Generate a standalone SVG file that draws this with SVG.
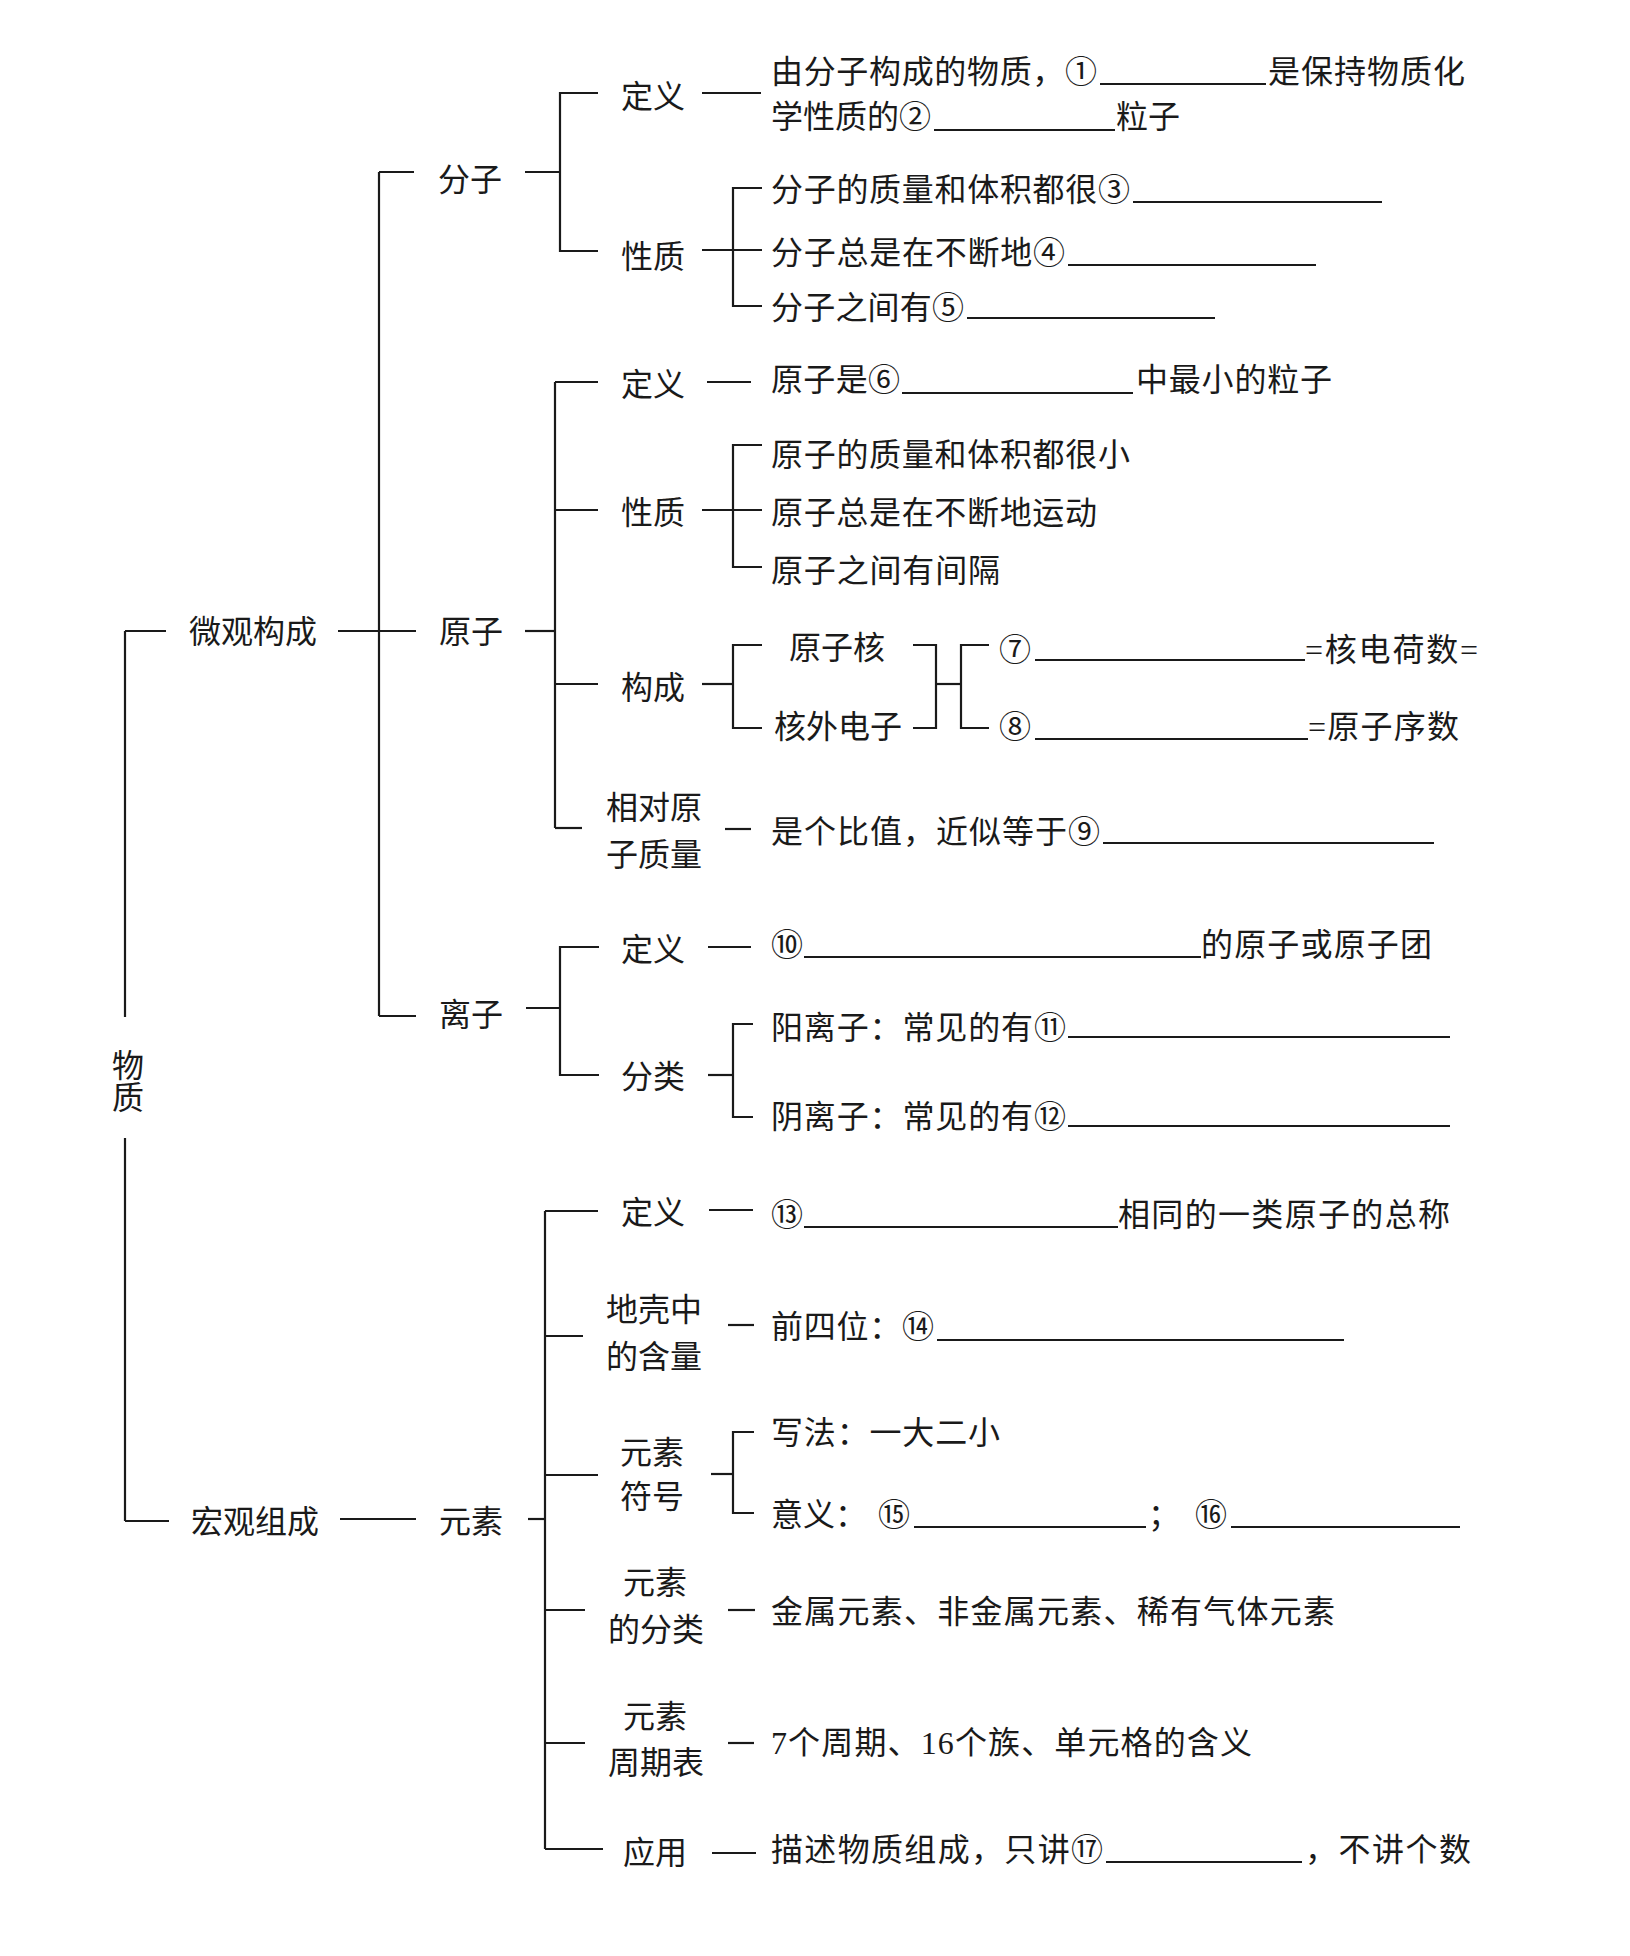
<svg xmlns="http://www.w3.org/2000/svg" width="1630" height="1956" viewBox="0 0 1630 1956">
<style>
text{font-family:"Liberation Serif","Noto Sans CJK SC",serif;font-size:32px;fill:#1a1a1a}
.m{text-anchor:middle}
.v{writing-mode:vertical-rl}
.c line,.c polyline{stroke:#1a1a1a;stroke-width:2.2;fill:none}
.u{stroke:#1a1a1a;stroke-width:1.8}
</style>
<rect width="1630" height="1956" fill="#ffffff"/>
<g class="c" id="connectors">
<line x1="125" y1="631" x2="125" y2="1017"/>
<line x1="125" y1="1138" x2="125" y2="1521"/>
<line x1="125" y1="631" x2="166" y2="631"/>
<line x1="125" y1="1521" x2="169" y2="1521"/>
<line x1="338" y1="631" x2="416" y2="631"/>
<line x1="379" y1="172" x2="379" y2="1016"/>
<line x1="379" y1="172" x2="414" y2="172"/>
<line x1="379" y1="1016" x2="416" y2="1016"/>
<line x1="525" y1="172" x2="560" y2="172"/>
<polyline points="598,93 560,93 560,251 598,251"/>
<line x1="702" y1="93" x2="761" y2="93"/>
<line x1="702" y1="250" x2="762" y2="250"/>
<polyline points="762,188 733,188 733,306 762,306"/>
<line x1="525" y1="631" x2="555" y2="631"/>
<line x1="555" y1="382" x2="555" y2="828"/>
<line x1="555" y1="382" x2="598" y2="382"/>
<line x1="555" y1="510" x2="598" y2="510"/>
<line x1="555" y1="684" x2="598" y2="684"/>
<line x1="555" y1="828" x2="582" y2="828"/>
<line x1="707" y1="382" x2="751" y2="382"/>
<line x1="702" y1="510" x2="762" y2="510"/>
<polyline points="762,445 733,445 733,567 762,567"/>
<line x1="702" y1="684" x2="733" y2="684"/>
<polyline points="762,645 733,645 733,728 762,728"/>
<polyline points="913,645 936,645 936,728 913,728"/>
<line x1="936" y1="684" x2="961" y2="684"/>
<polyline points="989,645 961,645 961,728 989,728"/>
<line x1="725" y1="829" x2="751" y2="829"/>
<line x1="526" y1="1008" x2="560" y2="1008"/>
<polyline points="599,947 560,947 560,1075 599,1075"/>
<line x1="708" y1="947" x2="751" y2="947"/>
<line x1="708" y1="1075" x2="733" y2="1075"/>
<polyline points="753,1024 733,1024 733,1117 753,1117"/>
<line x1="340" y1="1519" x2="416" y2="1519"/>
<line x1="528" y1="1519" x2="545" y2="1519"/>
<line x1="545" y1="1211" x2="545" y2="1849"/>
<line x1="545" y1="1211" x2="598" y2="1211"/>
<line x1="545" y1="1336" x2="583" y2="1336"/>
<line x1="545" y1="1475" x2="598" y2="1475"/>
<line x1="545" y1="1610" x2="585" y2="1610"/>
<line x1="545" y1="1743" x2="585" y2="1743"/>
<line x1="545" y1="1849" x2="603" y2="1849"/>
<line x1="709" y1="1210" x2="753" y2="1210"/>
<line x1="728" y1="1325" x2="754" y2="1325"/>
<line x1="711" y1="1474" x2="733" y2="1474"/>
<polyline points="754,1432 733,1432 733,1513 754,1513"/>
<line x1="728" y1="1610" x2="755" y2="1610"/>
<line x1="728" y1="1743" x2="754" y2="1743"/>
<line x1="712" y1="1853" x2="756" y2="1853"/>
</g>
<g id="root"><text class="v" x="125" y="1049">物质</text></g>
<g id="weiguan"><text class="m" x="253" y="643">微观构成</text></g>
<g id="hongguan"><text class="m" x="255" y="1533">宏观组成</text></g>
<g id="fenzi"><text class="m" x="470" y="191">分子</text></g>
<g id="yuanzi"><text class="m" x="471" y="643">原子</text></g>
<g id="lizi"><text class="m" x="471" y="1026">离子</text></g>
<g id="yuansu"><text class="m" x="471" y="1533">元素</text></g>
<g id="fz-dingyi"><text class="m" x="653" y="108">定义</text></g>
<g id="fz-xingzhi"><text class="m" x="653" y="268">性质</text></g>
<g id="yz-dingyi"><text class="m" x="653" y="396">定义</text></g>
<g id="yz-xingzhi"><text class="m" x="653" y="524">性质</text></g>
<g id="yz-goucheng"><text class="m" x="653" y="699">构成</text></g>
<g id="yz-xiangdui"><text class="m" x="654" y="819">相对原</text><text class="m" x="654" y="866">子质量</text></g>
<g id="lz-dingyi"><text class="m" x="653" y="961">定义</text></g>
<g id="lz-fenlei"><text class="m" x="653" y="1088">分类</text></g>
<g id="ys-dingyi"><text class="m" x="653" y="1224">定义</text></g>
<g id="ys-diqiao"><text class="m" x="654" y="1321">地壳中</text><text class="m" x="654" y="1368">的含量</text></g>
<g id="ys-fuhao"><text class="m" x="652" y="1464">元素</text><text class="m" x="652" y="1508">符号</text></g>
<g id="ys-fenlei"><text class="m" x="655" y="1594">元素</text><text class="m" x="656" y="1641">的分类</text></g>
<g id="ys-zhouqi"><text class="m" x="655" y="1728">元素</text><text class="m" x="656" y="1774">周期表</text></g>
<g id="ys-yingyong"><text class="m" x="655" y="1864">应用</text></g>
<g id="t-fz-def">
<text x="771" y="83" textLength="326">由分子构成的物质，①</text><line class="u" x1="1100" y1="84" x2="1266" y2="84"/><text x="1268" y="83" textLength="197">是保持物质化</text>
<text x="771" y="128" textLength="160">学性质的②</text><line class="u" x1="934" y1="130" x2="1115" y2="130"/><text x="1116" y="128">粒子</text>
</g>
<g id="t-fz-p1"><text x="771" y="201" textLength="359">分子的质量和体积都很③</text><line class="u" x1="1133" y1="202" x2="1382" y2="202"/></g>
<g id="t-fz-p2"><text x="771" y="264" textLength="294">分子总是在不断地④</text><line class="u" x1="1068" y1="265" x2="1316" y2="265"/></g>
<g id="t-fz-p3"><text x="771" y="319" textLength="193">分子之间有⑤</text><line class="u" x1="967" y1="318" x2="1215" y2="318"/></g>
<g id="t-yz-def"><text x="771" y="391" textLength="129">原子是⑥</text><line class="u" x1="902" y1="393" x2="1133" y2="393"/><text x="1136" y="391" textLength="196">中最小的粒子</text></g>
<g id="t-yz-p1"><text x="771" y="466" textLength="359">原子的质量和体积都很小</text></g>
<g id="t-yz-p2"><text x="771" y="524" textLength="326">原子总是在不断地运动</text></g>
<g id="t-yz-p3"><text x="771" y="582" textLength="229">原子之间有间隔</text></g>
<g id="t-hezi"><text x="789" y="659">原子核</text></g>
<g id="t-dianzi"><text x="774" y="738" textLength="128">核外电子</text></g>
<g id="t-q7"><text x="999" y="661" textLength="33">⑦</text><line class="u" x1="1035" y1="660" x2="1305" y2="660"/><text x="1305" y="661" textLength="173">=核电荷数=</text></g>
<g id="t-q8"><text x="999" y="738" textLength="33">⑧</text><line class="u" x1="1035" y1="739" x2="1308" y2="739"/><text x="1308" y="738" textLength="151">=原子序数</text></g>
<g id="t-xiangdui"><text x="771" y="843" textLength="329">是个比值，近似等于⑨</text><line class="u" x1="1103" y1="843" x2="1434" y2="843"/></g>
<g id="t-lz-def"><text x="771" y="956" textLength="30">⑩</text><line class="u" x1="804" y1="957" x2="1201" y2="957"/><text x="1201" y="956" textLength="231">的原子或原子团</text></g>
<g id="t-yang"><text x="771" y="1039" textLength="295">阳离子：常见的有⑪</text><line class="u" x1="1068" y1="1037" x2="1450" y2="1037"/></g>
<g id="t-yin"><text x="771" y="1128" textLength="295">阴离子：常见的有⑫</text><line class="u" x1="1068" y1="1126" x2="1450" y2="1126"/></g>
<g id="t-ys-def"><text x="771" y="1226" textLength="30">⑬</text><line class="u" x1="804" y1="1227" x2="1118" y2="1227"/><text x="1118" y="1226" textLength="332">相同的一类原子的总称</text></g>
<g id="t-diqiao"><text x="771" y="1338" textLength="163">前四位：⑭</text><line class="u" x1="937" y1="1340" x2="1344" y2="1340"/></g>
<g id="t-xiefa"><text x="771" y="1444" textLength="229">写法：一大二小</text></g>
<g id="t-yiyi"><text x="771" y="1526">意义：</text><text x="878" y="1526" textLength="33">⑮</text><line class="u" x1="914" y1="1527" x2="1146" y2="1527"/><text x="1148" y="1526">；</text><text x="1195" y="1526" textLength="30">⑯</text><line class="u" x1="1231" y1="1527" x2="1460" y2="1527"/></g>
<g id="t-fenlei"><text x="771" y="1623" textLength="564">金属元素、非金属元素、稀有气体元素</text></g>
<g id="t-zhouqi"><text x="771" y="1754" textLength="481">7个周期、16个族、单元格的含义</text></g>
<g id="t-yingyong"><text x="771" y="1861" textLength="332">描述物质组成，只讲⑰</text><line class="u" x1="1106" y1="1862" x2="1302" y2="1862"/><text x="1305" y="1861" textLength="166">，不讲个数</text></g>
</svg>
